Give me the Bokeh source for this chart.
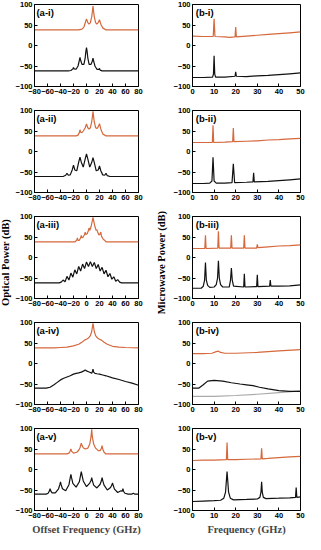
import math
from bokeh.plotting import figure
from bokeh.layouts import row, column
from bokeh.models import Range1d, Label, FixedTicker
from bokeh.embed import file_html
from bokeh.resources import INLINE

# ---------------- data ----------------
a_xticks = [-80, -60, -40, -20, 0, 20, 40, 60, 80]
b_xticks = [0, 10, 20, 30, 40, 50]
y_ticks = [-100, -50, 0, 50, 100]

# optical spectra (offset frequency GHz, dB)
ai_up = [(-80, 38), (-12, 38), (-7, 40), (-4, 45), (-2, 55), (0, 65), (2, 56), (4, 52), (6, 56), (8, 70), (9, 82),
         (10, 96), (11, 82), (12, 70), (14, 56), (16, 52), (18, 56), (20, 63), (22, 52), (25, 43), (30, 38), (80, 38)]
ai_lo = [(-80, -62), (-28, -62), (-24, -61), (-21, -57), (-20, -54), (-19, -57), (-16, -58), (-13, -50), (-11, -36),
         (-10, -29), (-9, -36), (-7, -46), (-4, -46), (-2, -30), (-1, -15), (0, -5), (1, -15), (2, -30), (4, -46),
         (7, -46), (9, -38), (10, -31), (11, -38), (13, -50), (16, -58), (19, -58), (20, -56), (21, -60), (24, -62),
         (28, -62), (80, -62)]

aii_up = [(-80, 38), (-16, 38), (-13, 40), (-11, 46), (-10, 53), (-9, 47), (-7, 46), (-5, 50), (-2, 58), (0, 67),
          (2, 58), (4, 55), (6, 58), (8, 72), (9, 84), (10, 98), (11, 84), (12, 72), (14, 58), (16, 56), (18, 60),
          (20, 68), (22, 55), (25, 43), (30, 38), (80, 38)]
aii_lo = [(-80, -61), (-36, -61), (-32, -58), (-30, -53), (-28, -58), (-25, -57), (-22, -45), (-20, -33), (-18, -45),
          (-15, -47), (-12, -26), (-10, -14), (-8, -26), (-5, -38), (-2, -18), (0, -6), (2, -18), (5, -38), (8, -27),
          (10, -15), (12, -27), (15, -47), (18, -45), (20, -35), (22, -47), (25, -57), (28, -58), (30, -53), (32, -59),
          (36, -61), (80, -61)]

aiii_up = [(-80, 38), (-18, 38), (-15, 42), (-14, 48), (-13, 42), (-11, 42), (-9, 48), (-8, 54), (-7, 48), (-5, 50),
           (-3, 56), (-2, 62), (-1, 56), (1, 58), (3, 66), (4, 72), (5, 66), (7, 75), (9, 90), (10, 98), (11, 90),
           (13, 75), (15, 66), (16, 68), (17, 63), (19, 55), (21, 58), (22, 62), (23, 52), (26, 44), (28, 42),
           (30, 38), (80, 38)]
aiii_lo = [(-80, -62), (-42, -62), (-39, -60), (-36, -55), (-33, -59), (-30, -46), (-27, -55), (-24, -38), (-21, -48),
           (-18, -30), (-15, -40), (-12, -22), (-9, -33), (-6, -16), (-3, -27), (0, -11), (3, -22), (6, -10), (9, -22),
           (12, -12), (15, -27), (18, -17), (21, -33), (24, -24), (27, -40), (30, -31), (33, -47), (36, -39),
           (39, -53), (42, -47), (45, -58), (48, -54), (51, -60), (54, -62), (80, -62)]

aiv_up = [(-80, 38), (-50, 38), (-40, 39), (-30, 40), (-20, 43), (-12, 47), (-6, 53), (-3, 57), (0, 59), (3, 62),
          (6, 68), (8, 78), (9, 88), (10, 98), (11, 88), (12, 78), (14, 68), (17, 62), (20, 59), (23, 57), (27, 52),
          (32, 47), (40, 42), (50, 40), (60, 39), (80, 38)]
aiv_lo = [(-80, -60), (-62, -60), (-56, -58), (-50, -52), (-45, -46), (-40, -40), (-35, -36), (-30, -33), (-25, -30),
          (-20, -26), (-16, -24), (-12, -23), (-8, -21), (-4, -18), (-2, -16), (0, -18), (3, -20), (6, -22), (8, -24),
          (9, -20), (10, -14), (11, -21), (13, -24), (16, -25), (20, -26), (25, -28), (30, -30), (40, -35), (50, -39),
          (60, -44), (70, -48), (80, -53)]

av_up = [(-80, 38), (-30, 38), (-27, 40), (-25, 45), (-24, 50), (-23, 45), (-20, 40), (-15, 42), (-12, 47), (-10, 53),
         (-9, 59), (-8, 64), (-7, 59), (-5, 53), (-2, 50), (2, 52), (5, 62), (7, 80), (8, 98), (9, 80), (11, 62),
         (14, 52), (18, 46), (21, 46), (23, 52), (24, 58), (25, 50), (27, 42), (30, 38), (80, 38)]
av_lo = [(-80, -60), (-62, -60), (-59, -58), (-57, -52), (-56, -47), (-55, -52), (-53, -57), (-48, -57), (-43, -47),
         (-41, -37), (-40, -30), (-39, -37), (-37, -47), (-32, -52), (-27, -37), (-25, -20), (-24, -12), (-23, -20),
         (-21, -34), (-16, -43), (-11, -30), (-9, -13), (-8, -5), (-7, -13), (-5, -28), (0, -42), (5, -33), (7, -27),
         (8, -20), (9, -27), (11, -38), (16, -45), (21, -36), (23, -27), (24, -20), (25, -27), (27, -38), (32, -50),
         (37, -44), (39, -38), (40, -33), (41, -38), (43, -48), (48, -56), (53, -52), (55, -53), (56, -47), (57, -53),
         (59, -58), (64, -60), (70, -60), (72, -58), (74, -60), (80, -60)]

# microwave spectra (frequency GHz, dB)
bi_up = [(0, 23), (5, 22), (9.6, 22), (10, 65), (10.4, 22), (15, 21), (17, 20), (19.7, 21), (20, 45), (20.3, 21),
         (25, 23), (30, 25), (35, 27), (40, 29), (45, 31), (50, 33)]
bi_lo = [(0, -78), (5, -78), (9.3, -77), (9.7, -70), (10, -25), (10.3, -70), (10.7, -77), (15, -77), (19.7, -75),
         (20, -64), (20.3, -75), (25, -76), (30, -74), (35, -73), (40, -71), (45, -69), (50, -67)]

bii_up = [(0, 22), (5, 22), (9.2, 22), (9.5, 64), (9.8, 22), (15, 23), (18.6, 24), (18.9, 57), (19.2, 24), (25, 25),
          (30, 26), (35, 28), (40, 29), (45, 31), (50, 32)]
bii_lo = [(0, -78), (5, -78), (8, -77), (9, -72), (9.5, -14), (10, -72), (11, -77), (15, -77), (18.3, -76),
          (18.9, -30), (19.5, -76), (25, -75), (28, -74), (28.3, -52), (28.6, -74), (35, -73), (40, -71), (45, -69),
          (50, -67)]

biii_up = [(0, 22), (5.7, 22), (6, 54), (6.3, 22), (11.7, 23), (12, 64), (12.3, 23), (17.7, 23), (18, 54), (18.3, 23),
           (23.7, 23), (24, 54), (24.3, 23), (29.7, 23), (30, 32), (30.3, 24), (35, 26), (40, 28), (45, 29), (50, 31)]
biii_lo = [(0, -75), (4, -75), (5, -70), (5.6, -55), (6, -12), (6.4, -55), (7, -68), (8, -73), (10, -72), (11, -66),
           (11.6, -50), (12, -8), (12.4, -50), (13, -66), (14, -72), (17, -72), (17.6, -55), (18, -26), (18.4, -55),
           (19, -70), (23.7, -72), (24, -40), (24.3, -72), (29.7, -71), (30, -42), (30.3, -71), (35.7, -70),
           (36, -55), (36.3, -70), (40, -70), (45, -69), (50, -67)]

biv_up = [(0, 24), (5, 24), (9, 25), (11, 29), (12, 30), (13, 27), (15, 25), (20, 25), (30, 27), (40, 31), (50, 34)]
biv_lo = [(0, -60), (3, -60), (5, -52), (7, -43), (10, -41), (14, -43), (18, -47), (22, -50), (25, -52), (28, -54),
          (31, -58), (35, -62), (40, -66), (45, -68), (50, -68)]
biv_gr = [(0, -80), (10, -80), (20, -78), (30, -75), (40, -71), (50, -67)]

bv_up = [(0, 22), (5, 23), (10, 23), (15.7, 24), (16, 66), (16.3, 24), (20, 24), (25, 25), (31.7, 26), (32, 52),
         (32.3, 26), (35, 27), (40, 29), (45, 31), (50, 32)]
bv_lo = [(0, -78), (5, -77), (10, -76), (13, -75), (14.5, -70), (15.3, -55), (16, -5), (16.7, -55), (17.5, -70),
         (19, -74), (25, -73), (30, -72), (31.2, -68), (31.7, -55), (32, -30), (32.3, -55), (32.8, -68), (34, -71),
         (40, -70), (45, -69), (47.7, -68), (48, -44), (48.3, -68), (50, -67)]

a_tags = ["(a-i)", "(a-ii)", "(a-iii)", "(a-iv)", "(a-v)"]
b_tags = ["(b-i)", "(b-ii)", "(b-iii)", "(b-iv)", "(b-v)"]

ORANGE = "#D5683C"
BLACK = "#111111"
GREY = "#AAAAAA"
SANS = "Liberation Sans"
SERIF = "Liberation Serif"

ROW_H = 106
LAST_H = 118
TOTAL_H = 4 * ROW_H + LAST_H


def unzip(pts):
    return [q[0] for q in pts], [q[1] for q in pts]


def make_panel(kind, tag, traces, last):
    if kind == "a":
        xr, xt, w, bl, br, lx = (-80, 80), a_xticks, 138, 18, 12, -77
        xlabel = "Offset Frequency (GHz)"
    else:
        xr, xt, w, bl, br, lx = (0, 50), b_xticks, 135, 20, 5, 1.5
        xlabel = "Frequency (GHz)"
    h = LAST_H if last else ROW_H
    bb = 32 if last else 20
    p = figure(width=w, height=h, x_range=Range1d(*xr), y_range=Range1d(-100, 100),
               output_backend="svg", toolbar_location=None,
               min_border_left=bl, min_border_right=br, min_border_top=4, min_border_bottom=bb)
    p.xgrid.visible = False
    p.ygrid.visible = False
    p.outline_line_color = "black"
    p.outline_line_width = 1
    p.background_fill_color = "white"
    p.border_fill_color = "white"
    p.xaxis.ticker = FixedTicker(ticks=xt)
    p.yaxis.ticker = FixedTicker(ticks=y_ticks)
    for ax in (p.xaxis[0], p.yaxis[0]):
        ax.major_tick_in = 3
        ax.major_tick_out = 0
        ax.minor_tick_line_color = None
        ax.axis_line_color = "black"
        ax.major_tick_line_color = "black"
        ax.major_label_text_font = SANS
        ax.major_label_text_font_style = "bold"
        ax.major_label_text_font_size = "7.5px"
        ax.major_label_text_color = "black"
        ax.major_label_standoff = 2
    if last:
        p.xaxis.axis_label = xlabel
        p.xaxis.axis_label_text_font = SERIF
        p.xaxis.axis_label_text_font_style = "bold"
        p.xaxis.axis_label_text_font_size = "10.5px"
        p.xaxis.axis_label_standoff = 3
    for pts, col in traces:
        xs, ys = unzip(pts)
        p.line(xs, ys, line_color=col, line_width=1.2)
    p.add_layout(Label(x=lx, y=95, text=tag, text_font=SANS, text_font_style="bold",
                       text_font_size="9.5px", text_baseline="top", text_align="left", text_color="black"))
    return p


def make_label_fig(text, w, xpos):
    p = figure(width=w, height=TOTAL_H, x_range=Range1d(0, w), y_range=Range1d(0, TOTAL_H),
               output_backend="svg", toolbar_location=None, x_axis_type=None, y_axis_type=None,
               min_border_left=0, min_border_right=0, min_border_top=0, min_border_bottom=0)
    p.xgrid.visible = False
    p.ygrid.visible = False
    p.outline_line_color = None
    p.add_layout(Label(x=xpos, y=TOTAL_H - 262, text=text, angle=math.pi / 2, text_font=SERIF,
                       text_font_style="bold", text_font_size="10.5px", text_align="center",
                       text_baseline="middle", text_color="black"))
    return p


a_traces = [
    [(ai_up, ORANGE), (ai_lo, BLACK)],
    [(aii_up, ORANGE), (aii_lo, BLACK)],
    [(aiii_up, ORANGE), (aiii_lo, BLACK)],
    [(aiv_up, ORANGE), (aiv_lo, BLACK)],
    [(av_up, ORANGE), (av_lo, BLACK)],
]
b_traces = [
    [(bi_up, ORANGE), (bi_lo, BLACK)],
    [(bii_up, ORANGE), (bii_lo, BLACK)],
    [(biii_up, ORANGE), (biii_lo, BLACK)],
    [(biv_gr, GREY), (biv_up, ORANGE), (biv_lo, BLACK)],
    [(bv_up, ORANGE), (bv_lo, BLACK)],
]

left_col = column(*[make_panel("a", a_tags[i], a_traces[i], i == 4) for i in range(5)], spacing=0)
right_col = column(*[make_panel("b", b_tags[i], b_traces[i], i == 4) for i in range(5)], spacing=0)
lab_l = make_label_fig("Optical Power (dB)", 12, 5)
lab_r = make_label_fig("Microwave Power (dB)", 20, 11)

layout = row(lab_l, left_col, lab_r, right_col, spacing=0)

open("out.html", "w").write(file_html(layout, INLINE))
